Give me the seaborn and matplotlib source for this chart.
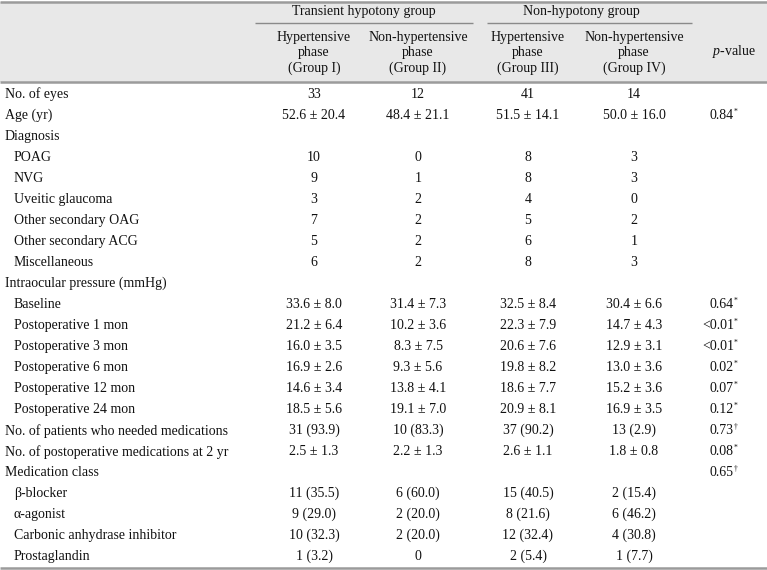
import numpy as np
import pandas as pd
import matplotlib
matplotlib.use("Agg")
import matplotlib.pyplot as plt
import seaborn as sns

# table content
row_labels = ["No. of eyes", "Age (yr)", "Diagnosis", "POAG", "NVG", "Uveitic glaucoma",
              "Other secondary OAG", "Other secondary ACG", "Miscellaneous",
              "Intraocular pressure (mmHg)", "Baseline", "Postoperative 1 mon",
              "Postoperative 3 mon", "Postoperative 6 mon", "Postoperative 12 mon",
              "Postoperative 24 mon", "No. of patients who needed medications",
              "No. of postoperative medications at 2 yr", "Medication class",
              "\u03b2-blocker", "\u03b1-agonist", "Carbonic anhydrase inhibitor", "Prostaglandin"]
sub_rows = {"POAG", "NVG", "Uveitic glaucoma", "Other secondary OAG", "Other secondary ACG",
            "Miscellaneous", "Baseline", "Postoperative 1 mon", "Postoperative 3 mon",
            "Postoperative 6 mon", "Postoperative 12 mon", "Postoperative 24 mon",
            "\u03b2-blocker", "\u03b1-agonist", "Carbonic anhydrase inhibitor", "Prostaglandin"}

group1 = ["33", "52.6 \u00b1 20.4", "", "10", "9", "3", "7", "5", "6", "",
          "33.6 \u00b1 8.0", "21.2 \u00b1 6.4", "16.0 \u00b1 3.5", "16.9 \u00b1 2.6", "14.6 \u00b1 3.4",
          "18.5 \u00b1 5.6", "31 (93.9)", "2.5 \u00b1 1.3", "", "11 (35.5)", "9 (29.0)", "10 (32.3)", "1 (3.2)"]
group2 = ["12", "48.4 \u00b1 21.1", "", "0", "1", "2", "2", "2", "2", "",
          "31.4 \u00b1 7.3", "10.2 \u00b1 3.6", "8.3 \u00b1 7.5", "9.3 \u00b1 5.6", "13.8 \u00b1 4.1",
          "19.1 \u00b1 7.0", "10 (83.3)", "2.2 \u00b1 1.3", "", "6 (60.0)", "2 (20.0)", "2 (20.0)", "0"]
group3 = ["41", "51.5 \u00b1 14.1", "", "8", "8", "4", "5", "6", "8", "",
          "32.5 \u00b1 8.4", "22.3 \u00b1 7.9", "20.6 \u00b1 7.6", "19.8 \u00b1 8.2", "18.6 \u00b1 7.7",
          "20.9 \u00b1 8.1", "37 (90.2)", "2.6 \u00b1 1.1", "", "15 (40.5)", "8 (21.6)", "12 (32.4)", "2 (5.4)"]
group4 = ["14", "50.0 \u00b1 16.0", "", "3", "3", "0", "2", "1", "3", "",
          "30.4 \u00b1 6.6", "14.7 \u00b1 4.3", "12.9 \u00b1 3.1", "13.0 \u00b1 3.6", "15.2 \u00b1 3.6",
          "16.9 \u00b1 3.5", "13 (2.9)", "1.8 \u00b1 0.8", "", "2 (15.4)", "6 (46.2)", "4 (30.8)", "1 (7.7)"]
p_values = ["", "0.84", "", "", "", "", "", "", "", "",
            "0.64", "<0.01", "<0.01", "0.02", "0.07", "0.12", "0.73", "0.08", "0.65", "", "", "", ""]
p_marks = ["", "*", "", "", "", "", "", "", "", "",
           "*", "*", "*", "*", "*", "*", "\u2020", "*", "\u2020", "", "", "", ""]

group_names = ["Transient hypotony group", "Non-hypotony group"]
sub_headers = ["Hypertensive\nphase\n(Group I)", "Non-hypertensive\nphase\n(Group II)",
               "Hypertensive\nphase\n(Group III)", "Non-hypertensive\nphase\n(Group IV)"]

table = pd.DataFrame({"label": row_labels, "g1": group1, "g2": group2,
                      "g3": group3, "g4": group4, "p": p_values, "mark": p_marks})

sns.set_theme(style="white")
plt.rcParams["font.family"] = ["Liberation Serif", "DejaVu Serif"]
plt.rcParams["mathtext.fontset"] = "custom"
plt.rcParams["mathtext.rm"] = "Liberation Serif"
plt.rcParams["mathtext.it"] = "Liberation Serif:italic"

W, H = 767, 570
fig = plt.figure(figsize=(W / 100, H / 100), dpi=100)
ax = fig.add_axes([0, 0, 1, 1])
ax.set_xlim(0, W)
ax.set_ylim(H, 0)
ax.axis("off")

txt = "#111111"
line_c = "#9b9b9b"
fs = 10

# header band and rules
ax.axhspan(1.5, 82, color="#e8e8e8", lw=0, zorder=0)
ax.hlines([1.5, 82, 568], 0, W, color=line_c, lw=1.8)
ax.hlines(23, 255, 473, color="#8a8a8a", lw=1.0)
ax.hlines(23, 487, 692, color="#8a8a8a", lw=1.0)

col_x = [314, 418, 528, 634]
ax.text(364, 12, group_names[0], ha="center", va="center", fontsize=fs, color=txt)
ax.text(581, 12, group_names[1], ha="center", va="center", fontsize=fs, color=txt)
for x, s in zip(col_x, sub_headers):
    ax.text(x, 53, s, ha="center", va="center", fontsize=fs, color=txt, linespacing=1.22)
ax.text(734, 52, "$p$-value", ha="center", va="center", fontsize=fs, color=txt)

y0, dy = 94.3, 21.02
for i, row in table.iterrows():
    y = y0 + dy * i
    lx = 14 if row["label"] in sub_rows else 5
    ax.text(lx, y, row["label"], ha="left", va="center", fontsize=fs, color=txt)
    for x, key in zip(col_x, ["g1", "g2", "g3", "g4"]):
        if row[key]:
            ax.text(x, y, row[key], ha="center", va="center", fontsize=fs, color=txt)
    if row["p"]:
        ax.text(734, y, row["p"], ha="right", va="center", fontsize=fs, color=txt)
        ax.text(733.8, y - 3.5, row["mark"], ha="left", va="center", fontsize=5.5, color=txt)

fig.savefig("out.png", dpi=100)
